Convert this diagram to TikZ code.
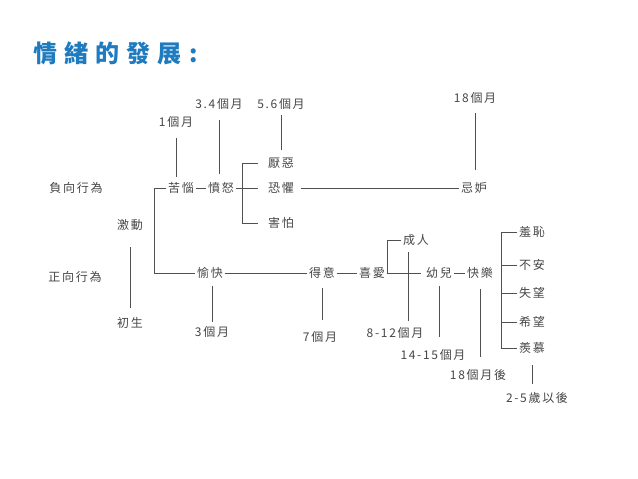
\documentclass[tikz,border=0pt]{standalone}
\usepackage{fontspec}
\newfontfamily\cjk[LetterSpace=14]{Noto Sans CJK TC}
\newfontfamily\cjkt[LetterSpace=30]{Noto Sans CJK TC}
\definecolor{titleblue}{RGB}{31,123,192}
\definecolor{txt}{RGB}{70,70,70}
\definecolor{ln}{RGB}{80,80,80}
\begin{document}
\begin{tikzpicture}[x=1pt,y=-1pt,
  lbl/.style={font=\cjk\fontsize{12}{14}\selectfont, text=txt, inner sep=1.5pt},
  conn/.style={draw=ln, line width=0.8pt}]
\useasboundingbox[fill=white] (0,0) rectangle (638,479);
% title
\node[anchor=west, font=\cjkt\bfseries\fontsize{24}{28}\selectfont, text=titleblue, inner sep=0pt] (title) at (33,53) {情緒的發展:};
% left labels
\node[lbl] (neg) at (76,188) {負向行為};
\node[lbl] (pos) at (75,277) {正向行為};
\node[lbl] (jd) at (130,225) {激動};
\node[lbl] (cs) at (130,323) {初生};
% upper branch
\node[lbl] (kn) at (181,188) {苦惱};
\node[lbl] (fn) at (221,188) {憤怒};
\node[lbl] (m1) at (176,122) {1個月};
\node[lbl] (m34) at (219,104) {3.4個月};
\node[lbl] (m56) at (281,104) {5.6個月};
\node[lbl] (yw) at (281,163) {厭惡};
\node[lbl] (kj) at (281,188) {恐懼};
\node[lbl] (hp) at (281,223) {害怕};
\node[lbl] (jdu) at (474,188) {忌妒};
\node[lbl] (m18) at (475,98) {18個月};
% lower branch
\node[lbl] (yk) at (210,273) {愉快};
\node[lbl] (m3) at (212,332) {3個月};
\node[lbl] (dy) at (322,273) {得意};
\node[lbl] (m7) at (320,337) {7個月};
\node[lbl] (xa) at (372,273) {喜愛};
\node[lbl] (cr) at (416,240) {成人};
\node[lbl] (m812) at (395,333) {8-12個月};
\node[lbl] (ye) at (439,273) {幼兒};
\node[lbl] (kl) at (480,273) {快樂};
\node[lbl] (m1415) at (433,355) {14-15個月};
\node[lbl] (m18h) at (478,375) {18個月後};
\node[lbl] (xc) at (532,232) {羞恥};
\node[lbl] (ba) at (532,265) {不安};
\node[lbl] (sw) at (532,293) {失望};
\node[lbl] (xw) at (532,322) {希望};
\node[lbl] (xm) at (532,348) {羨慕};
\node[lbl] (y25) at (537,398) {2-5歲以後};
% coordinates
\coordinate (stem) at (154,230);
\coordinate (brA) at (242,163);
\coordinate (brB) at (242,223);
\coordinate (crb) at (387,273);
\coordinate (rbA) at (501,232);
\coordinate (rbB) at (501,348);
% connectors
\draw[conn, shorten <=15pt, shorten >=8pt] (jd.south) -- (cs.north);
\draw[conn] (kn.west) -- (kn.west -| stem) -- (yk.west -| stem) -- (yk.west);
\draw[conn] (kn.east) -- (fn.west);
\draw[conn, shorten <=9pt, shorten >=4pt] (m1.south) -- (m1.south |- kn.north);
\draw[conn, shorten <=9pt, shorten >=7pt] (m34.south) -- (m34.south |- fn.north);
\draw[conn, shorten <=4pt, shorten >=6pt] (m56.south) -- (yw.north);
\draw[conn, shorten >=8pt] (fn.east) -- (kj.west);
\draw[conn, shorten <=8pt, shorten >=8pt] (yw.west) -| (brA) -- (brB) |- (hp.west);
\draw[conn, shorten <=5pt] (kj.east) -- (jdu.west);
\draw[conn, shorten <=8pt, shorten >=11pt] (m18.south) -- (m18.south |- jdu.north);
\draw[conn] (yk.east) -- (dy.west);
\draw[conn, shorten <=6pt, shorten >=3pt] (yk.south -| m3) -- (m3.north);
\draw[conn, shorten <=8pt, shorten >=10pt] (dy.south) -- (dy.south |- m7.north);
\draw[conn] (dy.east) -- (xa.west);
\draw[conn, shorten >=3pt] (xa.east) -- (ye.west);
\draw[conn] (crb) |- (cr.west);
\draw[conn, shorten <=5pt, shorten >=5pt] ([xshift=-8pt]cr.south) -- ([xshift=-8pt]cr.south |- m812.north);
\draw[conn] (ye.east) -- (kl.west);
\draw[conn, shorten <=6pt, shorten >=11pt] (ye.south) -- (ye.south |- m1415.north);
\draw[conn, shorten <=9pt, shorten >=11pt] (kl.south) -- (kl.south |- m18h.north);
\draw[conn] (xc.west) -| (rbA) -- (rbB) |- (xm.west);
\draw[conn] (ba.west) -- (ba.west -| rbA);
\draw[conn] (sw.west) -- (sw.west -| rbA);
\draw[conn] (xw.west) -- (xw.west -| rbA);
\draw[conn, shorten <=10pt, shorten >=7pt] (xm.south) -- (xm.south |- y25.north);
\end{tikzpicture}
\end{document}
